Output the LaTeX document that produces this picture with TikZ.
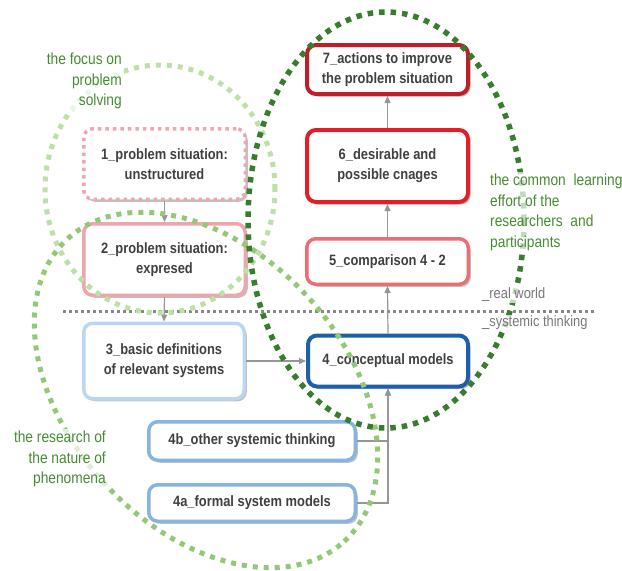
\documentclass[tikz,border=0pt]{standalone}
\usepackage{fontspec}
\setmainfont{Liberation Sans}
\newfontfamily\nfont[FakeStretch=0.86]{Liberation Sans}
\usetikzlibrary{arrows.meta,shadows}
\definecolor{txtgray}{RGB}{64,64,64}
\definecolor{labgray}{RGB}{120,120,120}
\definecolor{labgreen}{RGB}{70,140,50}
\definecolor{dkgreen}{RGB}{55,125,45}
\definecolor{ltgreen}{RGB}{188,224,168}
\definecolor{mdgreen}{RGB}{148,200,118}
\definecolor{pinkA}{RGB}{242,165,175}
\definecolor{pinkB}{RGB}{240,165,170}
\definecolor{redA}{RGB}{235,110,115}
\definecolor{redB}{RGB}{228,30,40}
\definecolor{redC}{RGB}{190,30,40}
\definecolor{blueA}{RGB}{185,215,240}
\definecolor{blueB}{RGB}{30,95,170}
\definecolor{blueC}{RGB}{135,180,225}
\definecolor{conncol}{RGB}{150,150,150}
\begin{document}
\begin{tikzpicture}[x=1pt,y=1pt,
  box/.style={rounded corners=9pt, fill=white, draw, line width=3.5pt,
    align=center, inner sep=0pt, text=txtgray,
    font=\nfont\bfseries\fontsize{15}{20}\selectfont,
    drop shadow={shadow xshift=2.5pt, shadow yshift=-2.5pt, opacity=0.35, fill=black!70}},
  conn/.style={draw=conncol, line width=1.2pt, -{Triangle[length=7pt,width=6pt]}},
  darkell/.style={draw=dkgreen, line width=5.5pt, dash pattern=on 5.5pt off 6pt},
  lightell/.style={draw=ltgreen, line width=5pt, dash pattern=on 5pt off 6pt},
  midell/.style={draw=mdgreen, line width=5pt, dash pattern=on 5pt off 6pt},
  greenlab/.style={text=labgreen, font=\nfont\fontsize{16}{20.5}\selectfont,
    fill=white, fill opacity=0.7, text opacity=1, inner sep=2pt},
  graylab/.style={text=labgray, font=\nfont\fontsize{15}{18}\selectfont,
    fill=white, fill opacity=0.7, text opacity=1, inner sep=1pt, anchor=west},
  sepline/.style={draw=conncol!90!black, line width=3pt, dash pattern=on 3pt off 3pt}
]
\useasboundingbox (0,0) rectangle (622,-571);

% boxes
\node[box, draw=pinkA, dash pattern=on 3.5pt off 4pt, minimum width=161.5pt, minimum height=70.5pt]
  (b1) at (164.5,-164) {1\_problem situation:\\unstructured};
\node[box, draw=pinkB, minimum width=161.5pt, minimum height=71.5pt]
  (b2) at (164.5,-259.5) {2\_problem situation:\\expresed};
\node[box, draw=blueA, minimum width=160.5pt, minimum height=75.5pt]
  (b3) at (164,-361) {3\_basic definitions\\of relevant systems};
\node[box, draw=blueB, line width=4pt, minimum width=160pt, minimum height=51pt]
  (b4) at (388,-361) {4\_conceptual models};
\node[box, draw=redA, minimum width=161.5pt, minimum height=45.5pt]
  (b5) at (387.5,-261.5) {5\_comparison 4 - 2};
\node[box, draw=redB, line width=4pt, minimum width=161pt, minimum height=72pt]
  (b6) at (387.5,-166) {6\_desirable and\\possible cnages};
\node[box, draw=redC, line width=4pt, minimum width=161pt, minimum height=49pt]
  (b7) at (387.5,-69.5) {7\_actions to improve\\the problem situation};
\node[box, draw=blueC, minimum width=206.5pt, minimum height=38.5pt]
  (b4b) at (252,-441) {4b\_other systemic thinking};
\node[box, draw=blueC, minimum width=206.5pt, minimum height=36.5pt]
  (b4a) at (252,-503) {4a\_formal system models};

% separator line
\coordinate (hl) at (63,-311);
\coordinate (hr) at (594,-311);
\draw[sepline] (hl) -- (hr);

% connectors
\draw[conn] (b1.south) -- (b2.north);
\draw[conn] (b2.south) -- (b3.north);
\draw[conn] (b3.east) -- (b4.west);
\draw[conn] (b4.north) -- (b5.south);
\draw[conn] (b5.north) -- (b6.south);
\draw[conn] (b6.north) -- (b7.south);
\draw[conn] (b4a.east) -| (b4.south);
\draw[conn] (b4b.east) -| (b4.south);

% ellipses
\draw[lightell] (160,-189) ellipse [x radius=115pt, y radius=124pt];
\draw[midell, rotate around={-47.6:(206,-390)}] (206,-390) ellipse [x radius=205pt, y radius=138pt];
\draw[darkell] (386,-220) ellipse [x radius=138pt, y radius=208pt];

% labels
\node[greenlab, align=right, anchor=east] (lfocus) at (124,-81) {the focus on\\problem\\solving};
\node[greenlab, align=left, anchor=west] (lcommon) at (488,-212.5) {the common~ learning\\effort of the\\researchers~ and\\participants};
\node[greenlab, align=right, anchor=east] (lresearch) at (108,-459) {the research of\\the nature of\\phenomena};
\node[graylab] (lreal) at (481,-295) {\_real world};
\node[graylab] (lsys) at (481,-323) {\_systemic thinking};
\end{tikzpicture}
\end{document}
